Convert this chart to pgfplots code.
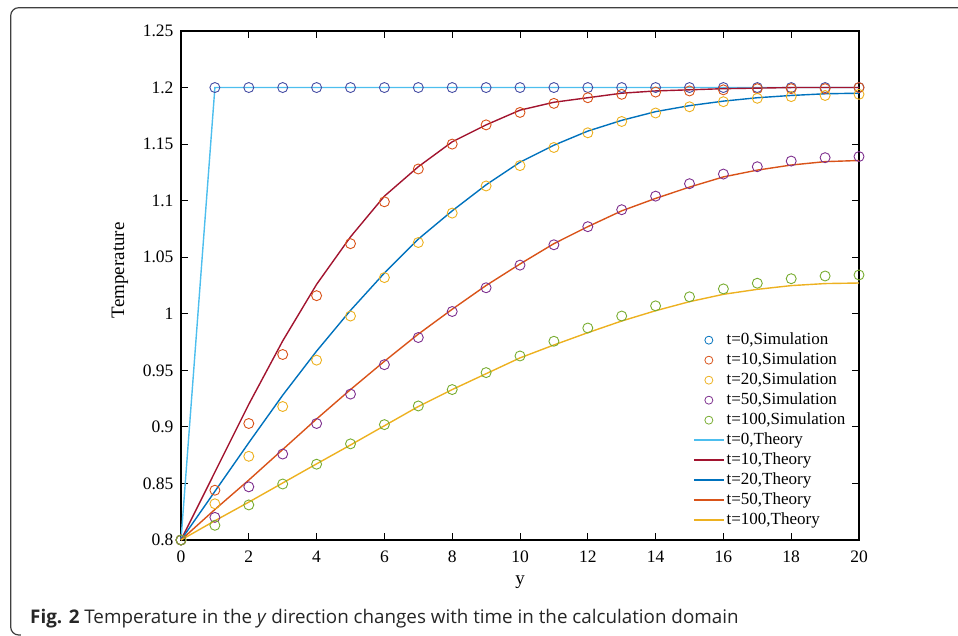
\documentclass[border=0pt]{standalone}
\usepackage{pgfplots}
\usepackage{pgfplotstable}
\pgfplotsset{compat=1.18}
\usepackage{fontspec}
\setmainfont{Liberation Serif}
\newfontfamily\capfont{Open Sans}
\definecolor{mblue}{RGB}{0,114,189}
\definecolor{morange}{RGB}{217,83,25}
\definecolor{myellow}{RGB}{237,177,32}
\definecolor{mpurple}{RGB}{126,47,142}
\definecolor{mgreen}{RGB}{119,172,48}
\definecolor{lblue}{RGB}{77,190,238}
\definecolor{dred}{RGB}{162,20,47}
\colorlet{szero}{mblue!45!mpurple}

\pgfplotstableread{
x  s0   s10   s20    s50    s100   th0  th10   th20   th50   th100
0  0.8  0.8   0.8    0.8    0.8    0.8  0.8    0.8    0.8    0.8
1  1.2  0.844 0.832  0.820  0.813  1.2  0.860  0.843  0.827  0.817
2  1.2  0.903 0.874  0.847  0.831  1.2  0.920  0.886  0.853  0.8335
3  1.2  0.964 0.918  0.876  0.8495 1.2  0.976  0.928  0.880  0.8504
4  1.2  1.016 0.959  0.903  0.867  1.2  1.026  0.967  0.907  0.8673
5  1.2  1.062 0.998  0.929  0.885  1.2  1.068  1.003  0.933  0.884
6  1.2  1.099 1.032  0.955  0.902  1.2  1.104  1.036  0.958  0.901
7  1.2  1.128 1.063  0.979  0.9185 1.2  1.130  1.066  0.982  0.918
8  1.2  1.150 1.089  1.002  0.933  1.2  1.152  1.091  1.004  0.933
9  1.2  1.167 1.113  1.023  0.948  1.2  1.167  1.114  1.025  0.947
10 1.2  1.178 1.131  1.043  0.9627 1.2  1.180  1.134  1.044  0.961
11 1.2  1.186 1.147  1.061  0.9757 1.2  1.187  1.149  1.062  0.9724
12 1.2  1.191 1.160  1.077  0.9874 1.2  1.191  1.1615 1.077  0.9833
13 1.2  1.194 1.170  1.092  0.998  1.2  1.195  1.171  1.091  0.9936
14 1.2  1.196 1.1775 1.104  1.007  1.2  1.197  1.1787 1.102  1.0027
15 1.2  1.197 1.183  1.115  1.015  1.2  1.198  1.184  1.112  1.0107
16 1.2  1.198 1.1875 1.1235 1.022  1.2  1.199  1.188  1.121  1.0172
17 1.2  1.199 1.1905 1.130  1.027  1.2  1.1995 1.191  1.127  1.0216
18 1.2  1.199 1.192  1.135  1.031  1.2  1.2    1.193  1.1315 1.0249
19 1.2  1.199 1.193  1.138  1.0334 1.2  1.2    1.1945 1.1345 1.0267
20 1.2  1.2   1.194  1.139  1.0343 1.2  1.2    1.195  1.1355 1.0272
}\datatable

\begin{document}
\begin{tikzpicture}[x=1pt,y=1pt]
\useasboundingbox (-181,-96) rectangle (777,540);
\draw[line width=1.2pt, black!75, rounded corners=8pt] (780,532.3) -- (-170.3,532.3) -- (-170.3,-95) -- (-160,-95);
\begin{axis}[
  at={(0,0)}, anchor=south west,
  scale only axis, width=678pt, height=509pt,
  xmin=0, xmax=20, ymin=0.8, ymax=1.25,
  xtick={0,2,...,20},
  ytick={0.8,0.85,0.9,0.95,1,1.05,1.1,1.15,1.2,1.25},
  yticklabels={0.8,0.85,0.9,0.95,1,1.05,1.1,1.15,1.2,1.25},
  /pgf/number format/assume math mode=true,
  tick align=inside,
  major tick length=7pt,
  tick style={black, line width=0.9pt},
  axis line style={line width=1.1pt},
  ticklabel style={font=\fontsize{17.5}{17.5}\selectfont},
  xticklabel style={yshift=-7pt},
  yticklabel style={xshift=-4pt},
  label style={font=\fontsize{19}{19}\selectfont},
  xlabel={y}, ylabel={Temperature},
  xlabel style={at={(axis description cs:0.5,0)}, anchor=base, yshift=-45pt},
  ylabel style={at={(axis description cs:-0.09,0.53)}, anchor=center},
  clip=false,
  legend style={at={(rel axis cs:0.755,0.4126)}, anchor=north west, draw=none, fill=none,
    font=\fontsize{17}{17}\selectfont, inner sep=0pt, row sep=0pt,
    nodes={text height=12pt, text depth=4pt, inner sep=2pt, anchor=west}},
  legend cell align=left,
]
\addlegendimage{legend image code/.code={\draw[mblue, line width=0.8pt] (15pt,0pt) circle (4pt);}}
\addlegendentry{t=0,Simulation}
\addlegendimage{legend image code/.code={\draw[morange, line width=0.8pt] (15pt,0pt) circle (4pt);}}
\addlegendentry{t=10,Simulation}
\addlegendimage{legend image code/.code={\draw[myellow, line width=0.8pt] (15pt,0pt) circle (4pt);}}
\addlegendentry{t=20,Simulation}
\addlegendimage{legend image code/.code={\draw[mpurple, line width=0.8pt] (15pt,0pt) circle (4pt);}}
\addlegendentry{t=50,Simulation}
\addlegendimage{legend image code/.code={\draw[mgreen, line width=0.8pt] (15pt,0pt) circle (4pt);}}
\addlegendentry{t=100,Simulation}
\addlegendimage{legend image code/.code={\draw[lblue, line width=1.5pt] (0pt,0pt) -- (30pt,0pt);}}
\addlegendentry{t=0,Theory}
\addlegendimage{legend image code/.code={\draw[dred, line width=1.5pt] (0pt,0pt) -- (30pt,0pt);}}
\addlegendentry{t=10,Theory}
\addlegendimage{legend image code/.code={\draw[mblue, line width=1.5pt] (0pt,0pt) -- (30pt,0pt);}}
\addlegendentry{t=20,Theory}
\addlegendimage{legend image code/.code={\draw[morange, line width=1.5pt] (0pt,0pt) -- (30pt,0pt);}}
\addlegendentry{t=50,Theory}
\addlegendimage{legend image code/.code={\draw[myellow, line width=1.5pt] (0pt,0pt) -- (30pt,0pt);}}
\addlegendentry{t=100,Theory}

\pgfplotsset{simstyle/.style={only marks, mark=o, mark size=5pt, mark options={line width=0.9pt}, forget plot}}
\addplot[simstyle, szero] table[x=x, y=s0] {\datatable};
\addplot[simstyle, morange] table[x=x, y=s10] {\datatable};
\addplot[simstyle, myellow] table[x=x, y=s20] {\datatable};
\addplot[simstyle, mpurple] table[x=x, y=s50] {\datatable};
\addplot[simstyle, mgreen] table[x=x, y=s100] {\datatable};

\pgfplotsset{thstyle/.style={no marks, line width=1.4pt, forget plot}}
\addplot[thstyle, lblue] table[x=x, y=th0] {\datatable};
\addplot[thstyle, dred] table[x=x, y=th10] {\datatable};
\addplot[thstyle, mblue] table[x=x, y=th20] {\datatable};
\addplot[thstyle, morange] table[x=x, y=th50] {\datatable};
\addplot[thstyle, myellow] table[x=x, y=th100] {\datatable};
\end{axis}
\node[anchor=base west, font=\capfont\fontsize{18.8}{18.8}\selectfont, text=black!85] at (-154.3,-83.3)
  {\textbf{Fig. 2} Temperature in the \textit{y} direction changes with time in the calculation domain};
\end{tikzpicture}
\end{document}
